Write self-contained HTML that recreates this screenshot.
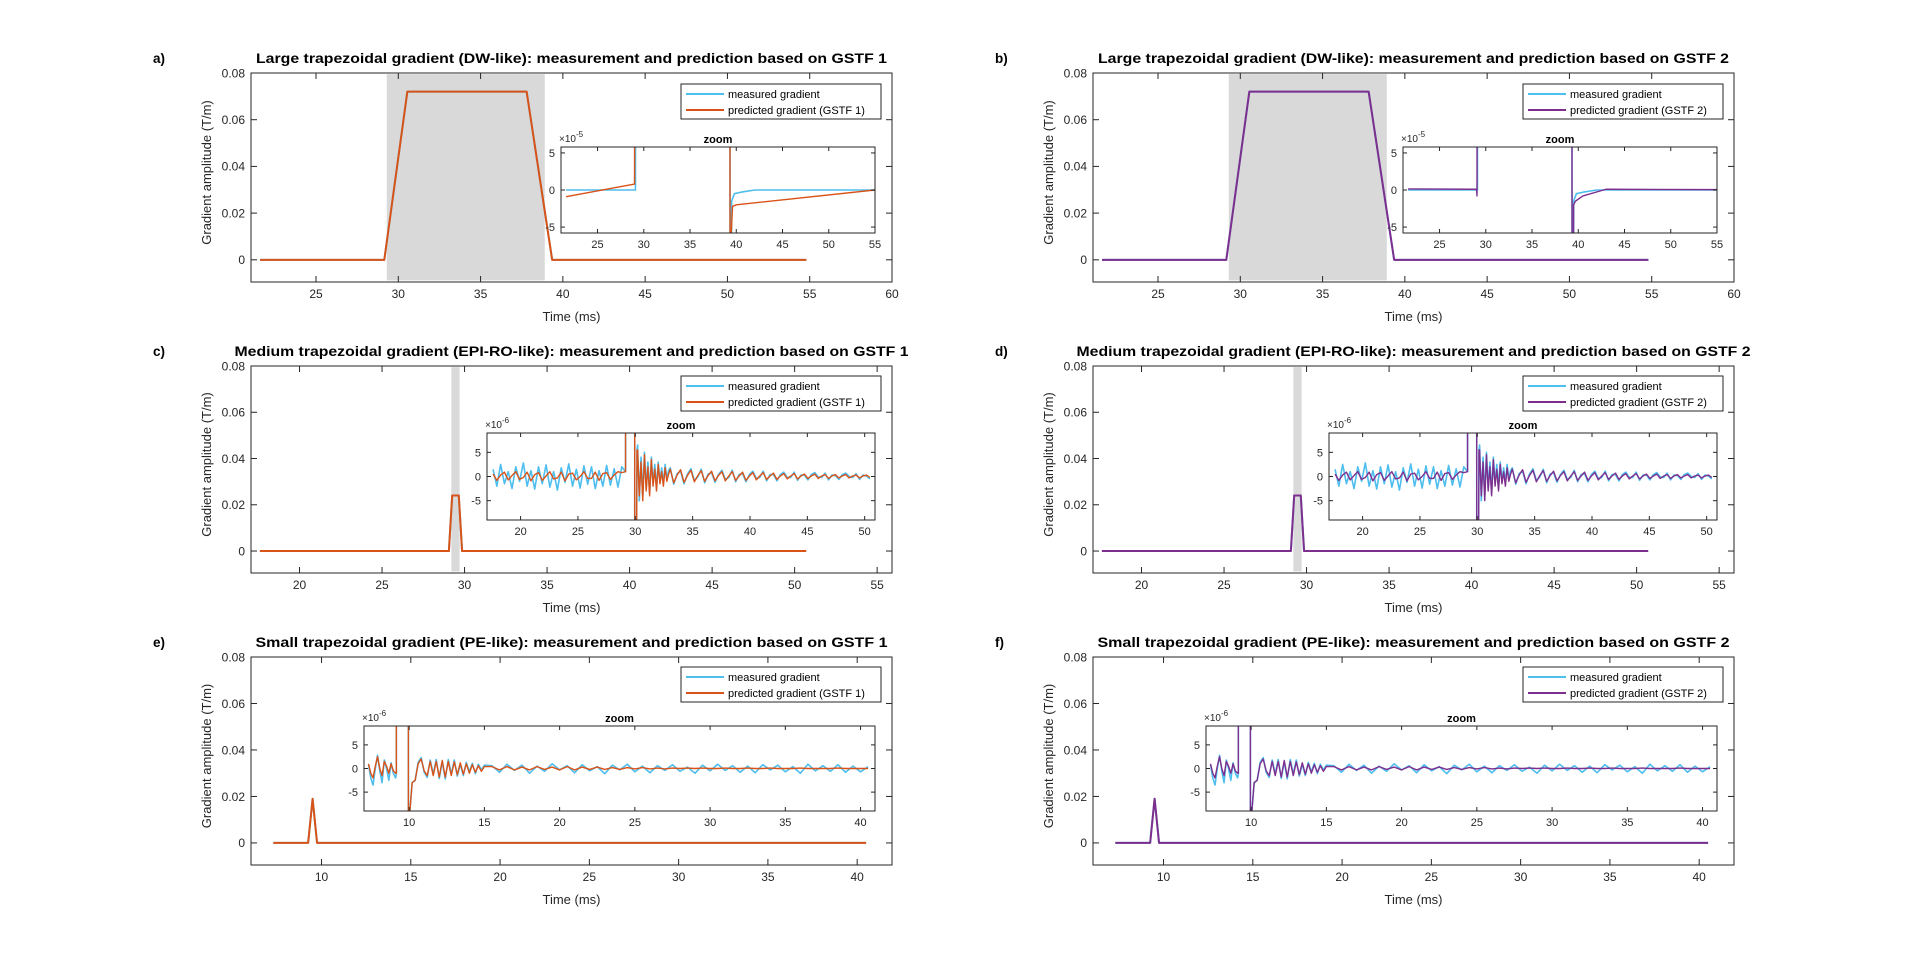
<!DOCTYPE html>
<html><head><meta charset="utf-8">
<style>
html,body{margin:0;padding:0;background:#fff;}
svg{display:block;font-family:"Liberation Sans",Arial,sans-serif;}
</style></head>
<body>
<svg id="fig" width="1920" height="973" viewBox="0 0 1920 973" xmlns="http://www.w3.org/2000/svg"></svg>
<script>
// ===== Main trapezoid data (T/m vs ms) =====
const aTimes=[21.6,29.15,30.55,37.8,39.35,54.8];
const aVals=[0,0,0.072,0.072,0,0];
const cTimes=[17.6,29.05,29.25,29.65,29.85,50.7];
const cVals=[0,0,0.024,0.024,0,0];
const eTimes=[7.3,9.25,9.5,9.75,40.5];
const eVals=[0,0,0.019,0,0];
const aShade=[29.3,38.9];
const cShade=[29.2,29.7];

// ===== Inset a/b (x1e-5) =====
const insAMeasT=[21.6,29.05,29.1,29.12,39.3,39.35,39.5,39.8,40.5,42,55];
const insAMeasV=[0,0,0,80,80,-80,-1.5,-0.5,-0.3,0,0];
const insAPredT=[21.6,29.0,29.1,39.3,39.35,39.45,39.6,40,55];
const insAPredV=[-0.9,0.8,80,80,-80,-6,-2.2,-2,0];
const insBPredT=[21.6,29.0,29.05,29.1,39.3,39.35,39.5,39.7,40.5,43,55];
const insBPredV=[0.15,0.1,-0.8,80,80,-80,-2,-1.5,-0.8,0.1,0.05];

// ===== Inset c/d (x1e-6) =====
const cPreMeas=[1.5,-2,2.5,-1.5,1,-2.5,2,-1,2.8,-2,1.2,-2.6,2,-1.5,2.4,-2.2,1,-2.8,1.8,-1.2,2.6,-2,1.5,-2.4,2.2,-1.6,2,-2.5,1.2,-2,2.3,-1.8,1.6,-2.2,2];
const cPrePred=[0.5,-0.8,0.3,0.9,-0.7,0.2,1,-0.6,-0.2,0.9,-0.9,0.4,0.8,-0.8,0.1,1,-0.5,-0.3,0.9,-0.9,0.5,0.7,-0.7,0,1,-0.4,-0.4,0.9,-0.8,0.6,0.8,-0.6,0.3,1,0.8];
const cSpikeT=[29.15,29.2,29.9,29.95,30.05,30.15];
const cSpikeV=[1,24000,24000,-40,-40,5.5];
const cPost1Pred=[5.5,-4,3,-5,4.5,-3,2,-4,3.5,-2,1.5,-3,2.5,-1.5,1,-2,1.8,-1,0.5];
const cPost1Meas=[6.5,-5,4,-4,5,-2.5,3,-3.5,4,-1.5,2.5,-2.5,3,-1,1.8,-1.5,2.5,-0.5,1.2];
const cPost2Pred=[1.5,-1.3,0.3,1.4,-1.2,0.2,1.3,-1.1,0.2,1.2,-1,0.2,1.1,-0.9,0.2,1,-0.9,0.1,1,-0.8,0.1,0.9,-0.8,0.1,0.8,-0.7,0.1,0.8,-0.6,0.1,0.7,-0.6,0.1,0.6,-0.5,0.1,0.6,-0.5,0.1,0.5,-0.4,0.1,0.5,-0.4,0.1,0.4,-0.4,0.1,0.4,-0.3,0.1,0.4,-0.3,0.1,0.3,-0.3,0.1,0.3,-0.2];
const cPost2Meas=[1.8,-1.6,0.6,1.1,-1.5,0.5,1.6,-0.8,-0.1,1.5,-1.3,0.5,0.8,-1.2,0.4,1.3,-0.6,-0.2,1.3,-1.1,0.4,0.6,-1.1,0.4,1.1,-0.4,-0.2,1.1,-0.9,0.4,0.4,-0.9,0.4,0.9,-0.2,-0.2,0.9,-0.8,0.3,0.3,-0.7,0.4,0.8,-0.1,-0.2,0.7,-0.7,0.3,0.2,-0.6,0.4,0.7,0,-0.2,0.6,-0.6,0.3,0.1,-0.5];

// ===== Inset e/f (x1e-6) =====
const ePrePred=[1,-1,-2,0.5,2.5,0,-1.5,1.5,0.5,-1,1,-0.5,-1];
const ePreMeas=[0.8,-2,-3.5,0,2.8,-0.5,-3,1.8,0,-2.5,1.2,-1,-2];
const eSpikeT=[9.15,9.2,9.9,9.95,10.05,10.2,10.4];
const eSpikeV=[-1,19000,19000,-40,-9,-3,-2.5];
const ePost1Pred=[1,2,-0.5,-1.5,1.5,-1.5,1.5,-1.8,1.7,-1.8,1.5,-1.5,1.4,-1.3,1.2,-1.2,1,-1,0.8,-0.8,0.6,-0.6,0.4];
const ePost1Meas=[1.3,2.3,-0.8,-1.9,1.8,-1.2,1.9,-2.1,1.4,-2.2,1.9,-1.2,1.8,-1.6,0.9,-1.5,1.3,-0.7,1.1,-1.1,0.9,-0.3,0.7];
const ePost2Pred=[0.4,-0.3,0.4,-0.3,0.3,-0.3,0.4,-0.2,0.3,-0.3,0.4,-0.3,0.3,-0.2,0.3,-0.2,0.2,-0.2,0.2,-0.1,0.2,-0.1,0.1,-0.1,0.1,0,0.1,0,0.1,0,0,0.1,0,0,0.1,0,0,0.1,0,0,0,0.1,0,0,0,0,0.1,0,0,0,0];
const ePost2Meas=[0.6,-0.8,0.9,-0.4,0.7,-1,0.5,-0.6,1,-0.3,0.6,-0.9,0.8,-0.5,0.4,-1.1,0.7,-0.3,0.9,-0.7,0.5,-0.9,0.6,-0.4,0.8,-0.6,0.3,-1,0.7,-0.5,0.9,-0.4,0.6,-0.8,0.5,-0.9,0.8,-0.3,0.7,-0.7,0.4,-1,0.9,-0.5,0.6,-0.6,0.8,-0.8,0.5,-0.7,0.4];

// ===== tick labels =====
const mainYTicks=[0,0.02,0.04,0.06,0.08];
const mainYLabels=["0","0.02","0.04","0.06","0.08"];
const aXTicks=[25,30,35,40,45,50,55,60];
const cXTicks=[20,25,30,35,40,45,50,55];
const eXTicks=[10,15,20,25,30,35,40];
const insAXTicks=[25,30,35,40,45,50,55];
const insCXTicks=[20,25,30,35,40,45,50];
const insEXTicks=[10,15,20,25,30,35,40];
const insYTicks=[-5,0,5];

const NS="http://www.w3.org/2000/svg";
const svg=document.getElementById('fig');
const AX="#262626";
const BLUE="#4DBEEE", ORANGE="#D95319", PURPLE="#7E2F8E";
let clipId=0;

function mk(tag,attrs,parent){const e=document.createElementNS(NS,tag);for(const k in attrs)e.setAttribute(k,attrs[k]);(parent||svg).appendChild(e);return e;}
function txt(s,attrs,parent){const e=mk('text',attrs,parent);e.textContent=s;return e;}

function seg(t0,dt,vals){return vals.map((v,i)=>[t0+i*dt,v]);}
function pairs(ts,vs){return ts.map((t,i)=>[t,vs[i]]);}

function makeAxes(x0,y0,w,h,xlim,ylim){
  const sx=t=>x0+(t-xlim[0])/(xlim[1]-xlim[0])*w;
  const sy=v=>y0+h-(v-ylim[0])/(ylim[1]-ylim[0])*h;
  return {x0,y0,w,h,sx,sy};
}
function clip(ax,parent){
  const id='clip'+(clipId++);
  const cp=mk('clipPath',{id},parent);
  mk('rect',{x:ax.x0,y:ax.y0,width:ax.w,height:ax.h},cp);
  return id;
}
function line(ax,pts,color,width,g,name){
  const d=pts.map((p,i)=>(i?'L':'M')+ax.sx(p[0]).toFixed(2)+' '+ax.sy(p[1]).toFixed(2)).join(' ');
  const p=mk('path',{d,fill:'none',stroke:color,'stroke-width':width,'stroke-linejoin':'round'},g);
  
  
  return p;
}
function box(ax,g,xt,xl,yt,yl,fs,tl,name){
  const b=mk('rect',{x:ax.x0,y:ax.y0,width:ax.w,height:ax.h,fill:'none',stroke:AX,'stroke-width':1},g);
  
  
  xt.forEach((t,i)=>{
    const x=ax.sx(t);
    mk('line',{x1:x,x2:x,y1:ax.y0+ax.h,y2:ax.y0+ax.h-tl,stroke:AX},g);
    mk('line',{x1:x,x2:x,y1:ax.y0,y2:ax.y0+tl,stroke:AX},g);
    const e=txt(xl[i],{x,y:ax.y0+ax.h+fs+4,'font-size':fs,fill:AX,'text-anchor':'middle'},g);
    
    
  });
  yt.forEach((v,i)=>{
    const y=ax.sy(v);
    mk('line',{x1:ax.x0,x2:ax.x0+tl,y1:y,y2:y,stroke:AX},g);
    mk('line',{x1:ax.x0+ax.w,x2:ax.x0+ax.w-tl,y1:y,y2:y,stroke:AX},g);
    const e=txt(yl[i],{x:ax.x0-6,y:y+fs*0.36,'font-size':fs,fill:AX,'text-anchor':'end'},g);
    
    
  });
}

function panel(cfg){
  const g=mk('g',{});
  
  
  const ax=makeAxes(cfg.x0,cfg.y0,641,cfg.h,cfg.xlim,[-0.0095,0.08]);
  if(cfg.shade){
    const r=mk('rect',{x:ax.sx(cfg.shade[0]),y:ax.sy(0.0795),width:ax.sx(cfg.shade[1])-ax.sx(cfg.shade[0]),height:ax.sy(-0.0088)-ax.sy(0.0795),fill:'#d9d9d9'},g);
    
    
  }
  const cid=clip(ax,g);
  const lg=mk('g',{'clip-path':'url(#'+cid+')'},g);
  line(ax,cfg.main,BLUE,2,lg,'measured-gradient-line');
  line(ax,cfg.main,cfg.color,2,lg,'predicted-gradient-line');
  box(ax,g,cfg.xticks,cfg.xticks.map(String),mainYTicks,mainYLabels,12,6,'main-axes');
  const t=txt(cfg.title,{x:cfg.x0+320.5,y:cfg.y0-10,'font-size':13.5,'font-weight':'bold','text-anchor':'middle',fill:'#000',textLength:cfg.tlen,lengthAdjust:'spacingAndGlyphs'},g);
  
  
  const lb=txt(cfg.letter+')',{x:cfg.x0-98,y:cfg.y0-10,'font-size':13.5,'font-weight':'bold',fill:'#000'},g);
  
  
  const xl=txt('Time (ms)',{x:cfg.x0+320.5,y:cfg.y0+cfg.h+39,'font-size':13,'text-anchor':'middle',fill:AX},g);
  
  
  const yc=cfg.y0+cfg.h/2-5;
  const yl=txt('Gradient amplitude (T/m)',{x:cfg.x0-40,y:yc,'font-size':13,'text-anchor':'middle',fill:AX,transform:'rotate(-90 '+(cfg.x0-40)+' '+yc+')'},g);
  
  
  const lx=cfg.x0+430, ly=cfg.y0+cfg.legOff;
  const leg=mk('g',{},g);
  
  
  mk('rect',{x:lx,y:ly,width:200,height:35,fill:'#fff',stroke:AX,'stroke-width':1},leg);
  mk('line',{x1:lx+5,x2:lx+43,y1:ly+10,y2:ly+10,stroke:BLUE,'stroke-width':2},leg);
  const l1=txt('measured gradient',{x:lx+47,y:ly+14,'font-size':11,fill:'#000'},leg);
  
  
  mk('line',{x1:lx+5,x2:lx+43,y1:ly+26,y2:ly+26,stroke:cfg.color,'stroke-width':2},leg);
  const l2=txt('predicted gradient (GSTF '+cfg.gstf+')',{x:lx+47,y:ly+30,'font-size':11,fill:'#000'},leg);
  
  
  const ig=mk('g',{},g);
  
  
  const ix0=cfg.x0+cfg.insL, ix1=cfg.x0+624;
  const iax=makeAxes(ix0,cfg.insY0,ix1-ix0,cfg.insY1-cfg.insY0,cfg.insX,cfg.insYL);
  mk('rect',{x:ix0,y:cfg.insY0,width:ix1-ix0,height:cfg.insY1-cfg.insY0,fill:'#fff'},ig);
  const icid=clip(iax,ig);
  const ilg=mk('g',{'clip-path':'url(#'+icid+')'},ig);
  line(iax,cfg.insMeas,BLUE,1.6,ilg,'inset-measured-line');
  line(iax,cfg.insPred,cfg.color,1.4,ilg,'inset-predicted-line');
  box(iax,ig,cfg.insXT,cfg.insXT.map(String),insYTicks,insYTicks.map(String),11,4,'inset-axes');
  const zt=txt('zoom',{x:(ix0+ix1)/2,y:cfg.insY0-4,'font-size':11,'font-weight':'bold','text-anchor':'middle',fill:'#000'},ig);
  
  
  const ex=mk('text',{x:ix0-2,y:cfg.insY0-5,'font-size':10,fill:AX},ig);
  
  
  const ts1=mk('tspan',{},ex); ts1.textContent='×10';
  const ts2=mk('tspan',{dy:-5,'font-size':8},ex); ts2.textContent=cfg.exp;
}

const insAMeas=pairs(insAMeasT,insAMeasV);
const insAPred=pairs(insAPredT,insAPredV);
const insBPred=pairs(insBPredT,insBPredV);
const insCMeas=[].concat(seg(17.6,0.33,cPreMeas),pairs(cSpikeT,cSpikeV),seg(30.2,0.15,cPost1Meas),seg(33.05,0.3,cPost2Meas));
const insCPred=[].concat(seg(17.6,0.33,cPrePred),pairs(cSpikeT,cSpikeV),seg(30.2,0.15,cPost1Pred),seg(33.05,0.3,cPost2Pred));
const insEMeas=[].concat(seg(7.3,0.15,ePreMeas),pairs(eSpikeT,eSpikeV),seg(10.6,0.2,ePost1Meas),seg(15.5,0.5,ePost2Meas));
const insEPred=[].concat(seg(7.3,0.15,ePrePred),pairs(eSpikeT,eSpikeV),seg(10.6,0.2,ePost1Pred),seg(15.5,0.5,ePost2Pred));

const rows=[
 {y0:73,h:209,legOff:11,xlim:[21.05,60],xticks:aXTicks,main:pairs(aTimes,aVals),shade:aShade,
  name:'Large trapezoidal gradient (DW-like): measurement and prediction based on GSTF ',tlen:631,
  insL:310,insY0:147,insY1:233,insX:[21.05,55],insYL:[-5.8,5.8],insXT:insAXTicks,exp:'-5',insMeas:insAMeas,predL:insAPred,predR:insBPred},
 {y0:366,h:207,legOff:10,xlim:[17.06,55.9],xticks:cXTicks,main:pairs(cTimes,cVals),shade:cShade,
  name:'Medium trapezoidal gradient (EPI-RO-like): measurement and prediction based on GSTF ',tlen:674,
  insL:236,insY0:433,insY1:520,insX:[17.07,50.9],insYL:[-9,9],insXT:insCXTicks,exp:'-6',insMeas:insCMeas,predL:insCPred,predR:insCPred},
 {y0:657,h:208,legOff:10,xlim:[6.05,41.95],xticks:eXTicks,main:pairs(eTimes,eVals),shade:null,
  name:'Small trapezoidal gradient (PE-like): measurement and prediction based on GSTF ',tlen:632,
  insL:113,insY0:726,insY1:811,insX:[7.0,40.96],insYL:[-9,9],insXT:insEXTicks,exp:'-6',insMeas:insEMeas,predL:insEPred,predR:insEPred}
];
const letters=[['a','b'],['c','d'],['e','f']];
rows.forEach((r,i)=>{
  [0,1].forEach(c=>{
    panel({letter:letters[i][c],x0:c?1093:251,y0:r.y0,h:r.h,legOff:r.legOff,xlim:r.xlim,xticks:r.xticks,main:r.main,shade:r.shade,
      title:r.name+(c?2:1),tlen:r.tlen,color:c?PURPLE:ORANGE,gstf:c?2:1,
      insL:r.insL,insY0:r.insY0,insY1:r.insY1,insX:r.insX,insYL:r.insYL,insXT:r.insXT,exp:r.exp,
      insMeas:r.insMeas,insPred:c?r.predR:r.predL});
  });
});
</script>
</body></html>
